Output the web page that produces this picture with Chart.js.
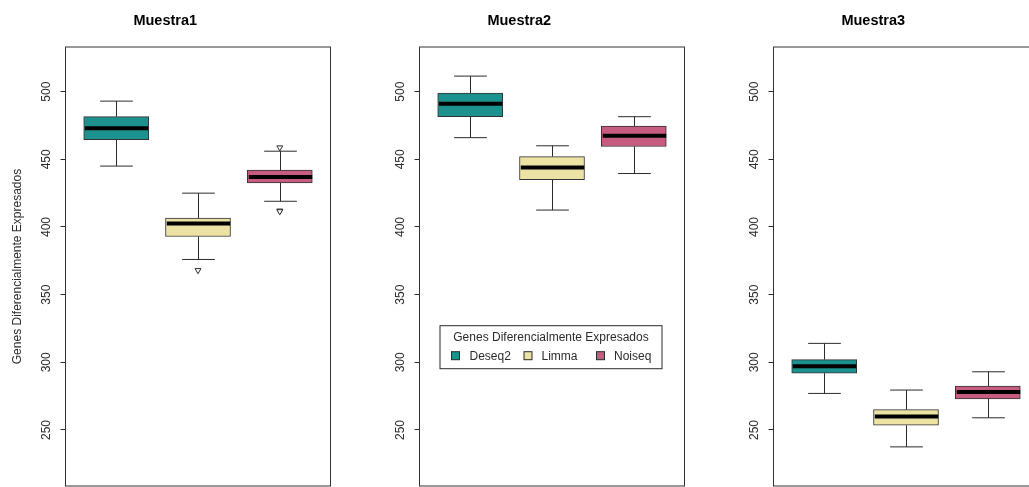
<!DOCTYPE html>
<html>
<head>
<meta charset="utf-8">
<script src="https://cdn.jsdelivr.net/npm/chart.js@4/dist/chart.umd.min.js"></script>
<style>
  html, body { margin: 0; padding: 0; background: #ffffff; overflow: hidden; width: 1029px; height: 487px; }
  .panel { position: absolute; top: 0; width: 396px; height: 487px; }
</style>
</head>
<body>
<div class="panel" style="left:0px"><canvas id="panel0" width="396" height="487"></canvas></div>
<div class="panel" style="left:354px"><canvas id="panel1" width="396" height="487"></canvas></div>
<div class="panel" style="left:708px"><canvas id="panel2" width="396" height="487"></canvas></div>
<script>
// Samples (one panel each) and methods (one box each)
const samples = ['Muestra1', 'Muestra2', 'Muestra3'];
const methods = ['Deseq2', 'Limma', 'Noiseq'];
const methodColors = ['#1c918d', '#ece2a3', '#c65c80'];
const yTitle = 'Genes Diferencialmente Expresados';
const yTicks = [250, 300, 350, 400, 450, 500];

// Five-number summaries per sample, in method order
const whiskerLow  = [[445, 376, 419],     [466, 412.5, 439.5], [277, 237.5, 259]];
const quartile1   = [[464.5, 393, 432.5], [481.5, 435, 459.5], [292, 253.5, 273]];
const medians     = [[473, 402.5, 437],   [491, 444, 467.5],   [297, 260, 278]];
const quartile3   = [[481.5, 406.5, 442], [499, 452, 474.5],   [302, 265, 282.5]];
const whiskerHigh = [[493, 425, 456],     [511.5, 460, 481.5], [314, 279.5, 293]];
// Points beyond the whiskers
const outliers    = [[[], [368], [458.7, 412, 411.5]], [[], [], []], [[], [], []]];

const FONT = "'Liberation Sans', Arial, Helvetica, sans-serif";
const INK = '#2b2b2b';
const BOX_WEX = 0.8;   // box width in x units

// Whiskers, caps and median bars drawn on top of the box bodies
const boxParts = {
  id: 'boxParts',
  afterDatasetsDraw(chart, args, opts) {
    const i = opts.panel;
    const xs = chart.scales.x, ys = chart.scales.y, ctx = chart.ctx;
    const half = xs.getPixelForValue(1 + BOX_WEX / 2) - xs.getPixelForValue(1);
    ctx.save();
    methods.forEach((m, j) => {
      const cx = Math.round(xs.getPixelForValue(j + 1)) + 0.5;
      const yLo = ys.getPixelForValue(whiskerLow[i][j]);
      const yQ1 = ys.getPixelForValue(quartile1[i][j]);
      const yMed = ys.getPixelForValue(medians[i][j]);
      const yQ3 = ys.getPixelForValue(quartile3[i][j]);
      const yHi = ys.getPixelForValue(whiskerHigh[i][j]);
      ctx.strokeStyle = INK;
      ctx.lineWidth = 1;
      ctx.beginPath();
      ctx.moveTo(cx, yQ3); ctx.lineTo(cx, yHi);
      ctx.moveTo(cx, yQ1); ctx.lineTo(cx, yLo);
      ctx.moveTo(cx - half / 2, yHi); ctx.lineTo(cx + half / 2, yHi);
      ctx.moveTo(cx - half / 2, yLo); ctx.lineTo(cx + half / 2, yLo);
      ctx.stroke();
      ctx.strokeStyle = '#000000';
      ctx.lineWidth = 4;
      ctx.beginPath();
      ctx.moveTo(cx - half + 1, yMed); ctx.lineTo(cx + half - 1, yMed);
      ctx.stroke();
    });
    ctx.restore();
  }
};

// Plot frame around the chart area
const frame = {
  id: 'frame',
  afterDraw(chart) {
    const a = chart.chartArea, ctx = chart.ctx;
    ctx.save();
    ctx.strokeStyle = '#333333';
    ctx.lineWidth = 1;
    ctx.strokeRect(a.left, a.top, a.right - a.left, a.bottom - a.top);
    ctx.restore();
  }
};

// Boxed legend placed inside the plot
const insetLegend = {
  id: 'insetLegend',
  afterDraw(chart, args, opts) {
    if (!opts.show) return;
    const a = chart.chartArea, ctx = chart.ctx;
    const left = a.left + opts.dx, top = opts.top, w = opts.width, h = opts.height;
    ctx.save();
    ctx.fillStyle = '#ffffff';
    ctx.fillRect(left, top, w, h);
    ctx.strokeStyle = INK;
    ctx.lineWidth = 1;
    ctx.strokeRect(left, top, w, h);
    ctx.fillStyle = INK;
    ctx.font = '12px ' + FONT;
    ctx.textBaseline = 'middle';
    ctx.textAlign = 'center';
    ctx.fillText(yTitle, left + w / 2, top + 11.5);
    ctx.textAlign = 'left';
    methods.forEach((m, j) => {
      const sx = left + opts.swatchX[j], sy = top + 30;
      ctx.fillStyle = methodColors[j];
      ctx.fillRect(sx - 4, sy - 4, 8, 8);
      ctx.strokeStyle = INK;
      ctx.strokeRect(sx - 4, sy - 4, 8, 8);
      ctx.fillStyle = INK;
      ctx.fillText(m, left + opts.textX[j], sy + 0.5);
    });
    ctx.restore();
  }
};

samples.forEach((name, i) => {
  const boxData = methods.map((m, j) => ({ x: j + 1, y: [quartile1[i][j], quartile3[i][j]] }));
  const outlierData = [];
  methods.forEach((m, j) => outliers[i][j].forEach(v => outlierData.push({ x: j + 1, y: v })));

  new Chart(document.getElementById('panel' + i), {
    type: 'bar',
    data: {
      datasets: [
        {
          type: 'bar',
          label: name,
          data: boxData,
          backgroundColor: methodColors,
          borderColor: '#333333',
          borderWidth: 1,
          borderSkipped: false,
          barThickness: 65,
          grouped: false
        },
        {
          type: 'scatter',
          label: 'outliers',
          data: outlierData,
          pointStyle: 'triangle',
          rotation: 180,
          radius: 3.4,
          backgroundColor: '#ffffff',
          borderColor: INK,
          borderWidth: 1
        }
      ]
    },
    options: {
      responsive: false,
      animation: false,
      devicePixelRatio: 1,
      layout: { autoPadding: false, padding: { top: 0, left: 0, right: 65.5, bottom: 1 } },
      plugins: {
        legend: { display: false },
        tooltip: { enabled: false },
        title: {
          display: true,
          text: name,
          color: '#000000',
          font: { family: FONT, size: 14.5, weight: 'bold', lineHeight: 1.2 },
          padding: { top: 12, bottom: 17.6 }
        },
        boxParts: { panel: i },
        insetLegend: {
          show: i === 1,
          dx: 20.5, top: 325.7, width: 222, height: 43,
          swatchX: [15.5, 88, 160.5],
          textX: [29.5, 101.5, 174]
        }
      },
      scales: {
        x: { type: 'linear', min: 0.38, max: 3.62, offset: false, display: false },
        y: {
          type: 'linear',
          min: 208.6,
          max: 533,
          afterBuildTicks: s => { s.ticks = yTicks.map(v => ({ value: v })); },
          afterFit: s => { s.width = 65.5; s.paddingTop = 0; s.paddingBottom = 0; },
          border: { display: false },
          grid: { drawOnChartArea: false, drawTicks: true, tickLength: 5, color: INK, tickWidth: 1 },
          ticks: {
            minRotation: 90, maxRotation: 90, crossAlign: 'center', padding: 4,
            autoSkip: false, color: INK, font: { family: FONT, size: 12 }
          },
          title: {
            display: i === 0,
            text: yTitle,
            color: INK,
            font: { family: FONT, size: 12, lineHeight: 1.2 },
            padding: { top: 10, bottom: 0 }
          }
        }
      }
    },
    plugins: [boxParts, frame, insetLegend]
  });
});
</script>
</body>
</html>
